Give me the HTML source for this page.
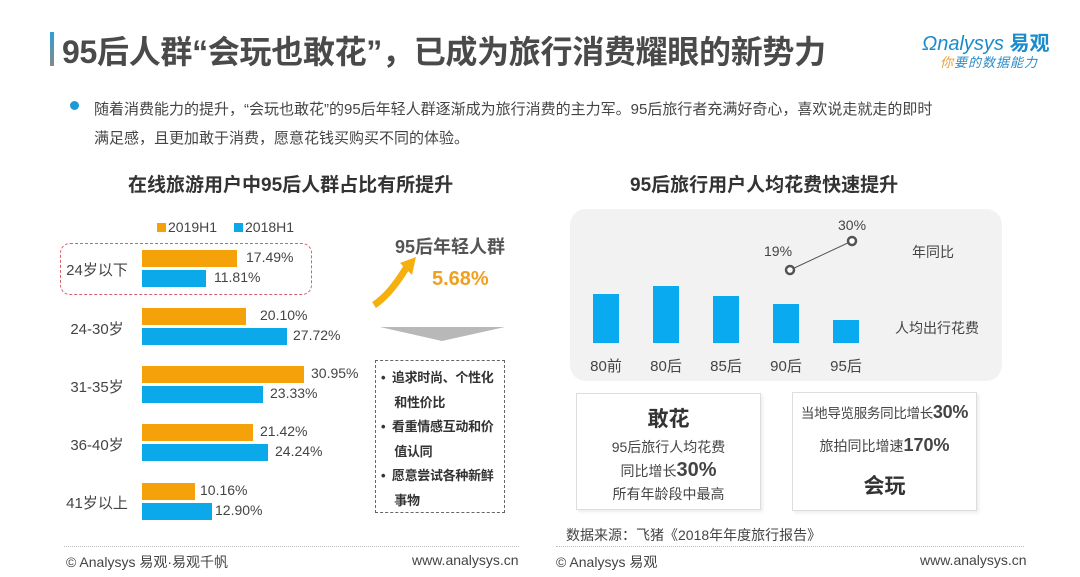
<!DOCTYPE html>
<html><head><meta charset="utf-8"><style>
*{margin:0;padding:0;box-sizing:border-box}
body{width:1080px;height:577px;background:#fff;position:relative;overflow:hidden;font-family:"Liberation Sans","Noto Sans CJK SC",sans-serif;color:#444}
.a{position:absolute;white-space:nowrap}
.o{position:absolute;background:#f5a10a;height:17px;left:142px}
.b{position:absolute;background:#0ba8ea;height:17px;left:142px}
.v{position:absolute;font-size:14px;color:#444}
.cat{position:absolute;font-size:15px;color:#444;width:90px;text-align:center;left:52px}
.rb{position:absolute;background:#0aaaf0;width:26px}
.xl{position:absolute;font-size:15px;color:#444;width:50px;text-align:center;top:355px}
</style></head><body>
<div class="a" style="left:50px;top:32px;width:4px;height:34px;background:linear-gradient(#2aa0d8,#888)"></div>
<div class="a" style="left:62px;top:27px;font-size:32px;font-weight:bold;color:#4a4a4a;letter-spacing:-0.3px">95后人群“会玩也敢花”，已成为旅行消费耀眼的新势力</div>
<div class="a" style="left:922px;top:27px;font-size:20px;color:#1a8ccc;font-style:italic">Ωnalysys <b style="font-style:normal">易观</b></div>
<div class="a" style="left:940px;top:52px;font-size:13px;color:#2a8cc8;font-style:italic;letter-spacing:1px"><span style="color:#e8a030">你</span>要的数据能力</div>
<div class="a" style="left:70px;top:101px;width:9px;height:9px;border-radius:50%;background:#1c9ad6"></div>
<div class="a" style="left:94px;top:95px;font-size:15px;color:#444;line-height:29px">随着消费能力的提升，“会玩也敢花”的95后年轻人群逐渐成为旅行消费的主力军。95后旅行者充满好奇心，喜欢说走就走的即时<br>满足感，且更加敢于消费，愿意花钱买购买不同的体验。</div>
<div class="a" style="left:128px;top:170px;font-size:19px;font-weight:bold;color:#333">在线旅游用户中95后人群占比有所提升</div>
<div class="a" style="left:630px;top:170px;font-size:19px;font-weight:bold;color:#333">95后旅行用户人均花费快速提升</div>
<div class="a" style="left:157px;top:223px;width:9px;height:9px;background:#f5a10a"></div>
<div class="a" style="left:168px;top:219px;font-size:14px">2019H1</div>
<div class="a" style="left:234px;top:223px;width:9px;height:9px;background:#0ba8ea"></div>
<div class="a" style="left:245px;top:219px;font-size:14px">2018H1</div>
<div class="a" style="left:60px;top:243px;width:252px;height:52px;border:1.5px dashed #d8606a;border-radius:10px"></div>
<div class="cat" style="top:259px">24岁以下</div>
<div class="o" style="top:250px;width:95px"></div><div class="v" style="left:246px;top:249px">17.49%</div>
<div class="b" style="top:270px;width:64px"></div><div class="v" style="left:214px;top:269px">11.81%</div>
<div class="cat" style="top:318px">24-30岁</div>
<div class="o" style="top:308px;width:104px"></div><div class="v" style="left:260px;top:307px">20.10%</div>
<div class="b" style="top:328px;width:145px"></div><div class="v" style="left:293px;top:327px">27.72%</div>
<div class="cat" style="top:376px">31-35岁</div>
<div class="o" style="top:366px;width:162px"></div><div class="v" style="left:311px;top:365px">30.95%</div>
<div class="b" style="top:386px;width:121px"></div><div class="v" style="left:270px;top:385px">23.33%</div>
<div class="cat" style="top:434px">36-40岁</div>
<div class="o" style="top:424px;width:111px"></div><div class="v" style="left:260px;top:423px">21.42%</div>
<div class="b" style="top:444px;width:126px"></div><div class="v" style="left:275px;top:443px">24.24%</div>
<div class="cat" style="top:492px">41岁以上</div>
<div class="o" style="top:483px;width:53px"></div><div class="v" style="left:200px;top:482px">10.16%</div>
<div class="b" style="top:503px;width:70px"></div><div class="v" style="left:215px;top:502px">12.90%</div>
<svg class="a" style="left:370px;top:255px" width="50" height="55"><path d="M4 50 Q20 40 38 10" stroke="#f5b010" stroke-width="7" fill="none"/><polygon points="30,8 46,2 42,20" fill="#f5b010"/></svg>
<div class="a" style="left:395px;top:233px;font-size:18px;font-weight:bold;color:#555">95后年轻人群</div>
<div class="a" style="left:432px;top:268px;font-size:20px;font-weight:bold;color:#f0a020">5.68%</div>
<svg class="a" style="left:380px;top:327px" width="125" height="16"><polygon points="0,0 125,0 62,14" fill="#b8b8b8"/></svg>
<div class="a" style="left:375px;top:360px;width:130px;height:153px;border:1px dashed #666"></div>
<div class="a" style="left:381px;top:366px;font-size:13px;font-weight:bold;color:#333;line-height:24.5px;letter-spacing:-0.3px">•&nbsp;&nbsp;追求时尚、个性化<br>&nbsp;&nbsp;&nbsp;&nbsp;和性价比<br>•&nbsp;&nbsp;看重情感互动和价<br>&nbsp;&nbsp;&nbsp;&nbsp;值认同<br>•&nbsp;&nbsp;愿意尝试各种新鲜<br>&nbsp;&nbsp;&nbsp;&nbsp;事物</div>
<div class="a" style="left:570px;top:209px;width:432px;height:172px;background:#f2f2f2;border-radius:16px"></div>
<div class="rb" style="left:593px;top:294px;height:49px"></div>
<div class="rb" style="left:653px;top:286px;height:57px"></div>
<div class="rb" style="left:713px;top:296px;height:47px"></div>
<div class="rb" style="left:773px;top:304px;height:39px"></div>
<div class="rb" style="left:833px;top:320px;height:23px"></div>
<div class="xl" style="left:581px">80前</div><div class="xl" style="left:641px">80后</div><div class="xl" style="left:701px">85后</div><div class="xl" style="left:761px">90后</div><div class="xl" style="left:821px">95后</div>
<svg class="a" style="left:780px;top:230px" width="85" height="50"><line x1="10" y1="40" x2="72" y2="11" stroke="#555" stroke-width="1"/><circle cx="10" cy="40" r="4" fill="#fff" stroke="#555" stroke-width="2.5"/><circle cx="72" cy="11" r="4" fill="#fff" stroke="#555" stroke-width="2.5"/></svg>
<div class="a" style="left:764px;top:243px;font-size:14px">19%</div>
<div class="a" style="left:838px;top:217px;font-size:14px">30%</div>
<div class="a" style="left:912px;top:242px;font-size:14px">年同比</div>
<div class="a" style="left:895px;top:318px;font-size:14px">人均出行花费</div>
<div class="a" style="left:576px;top:393px;width:185px;height:117px;border:1px solid #ddd;box-shadow:2px 2px 3px #eee"></div>
<div class="a" style="left:576px;top:403px;width:185px;text-align:center;font-size:21px;font-weight:bold;color:#333">敢花</div>
<div class="a" style="left:576px;top:436px;width:185px;text-align:center;font-size:14px;line-height:23px;color:#444">95后旅行人均花费<br>同比增长<b style="font-size:20px">30%</b><br>所有年龄段中最高</div>
<div class="a" style="left:792px;top:392px;width:185px;height:119px;border:1px solid #ddd;box-shadow:2px 2px 3px #eee"></div>
<div class="a" style="left:792px;top:402px;width:185px;text-align:center;font-size:13.5px;letter-spacing:-0.3px">当地导览服务同比增长<b style="font-size:18px">30%</b></div>
<div class="a" style="left:792px;top:435px;width:185px;text-align:center;font-size:14px">旅拍同比增速<b style="font-size:18px">170%</b></div>
<div class="a" style="left:792px;top:470px;width:185px;text-align:center;font-size:21px;font-weight:bold;color:#333">会玩</div>
<div class="a" style="left:566px;top:525px;font-size:14px">数据来源：飞猪《2018年年度旅行报告》</div>
<div class="a" style="left:64px;top:546px;width:455px;border-top:1px dotted #bbb"></div>
<div class="a" style="left:556px;top:546px;width:468px;border-top:1px dotted #bbb"></div>
<div class="a" style="left:66px;top:552px;font-size:14px">© Analysys 易观·易观千帆</div>
<div class="a" style="left:412px;top:552px;font-size:14px">www.analysys.cn</div>
<div class="a" style="left:556px;top:552px;font-size:14px">© Analysys 易观</div>
<div class="a" style="left:920px;top:552px;font-size:14px">www.analysys.cn</div>
</body></html>
